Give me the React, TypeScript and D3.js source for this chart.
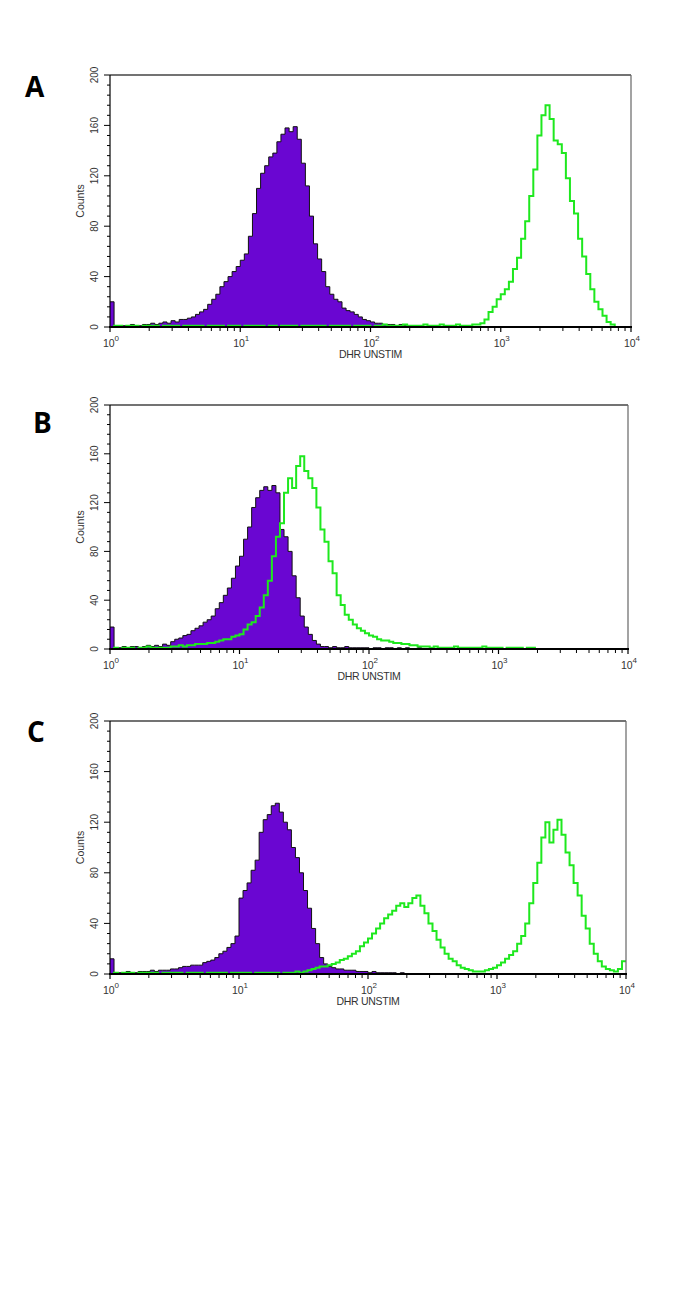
import React from "react";
import * as d3 from "d3";

// 128 log channels over 10^0..10^4 (32 per decade)
const CHANNELS_PER_DECADE = 32;

const panelLabels = ["A", "B", "C"];
const yTickValues = [0, 40, 80, 120, 160, 200];
const xDecades = [0, 1, 2, 3, 4];
const xAxisTitle = "DHR UNSTIM";
const yAxisTitle = "Counts";

const purpleA = [
  20, 1, 0, 1, 1, 2, 1, 1, 2, 2,
  3, 2, 3, 4, 3, 5, 4, 6, 6, 7,
  8, 10, 12, 14, 18, 22, 26, 32, 36, 40,
  44, 48, 53, 58, 72, 90, 110, 122, 128, 135,
  138, 147, 153, 158, 155, 159, 149, 130, 112, 88,
  66, 54, 44, 32, 26, 22, 20, 15, 13, 12,
  10, 8, 6, 5, 4, 3, 3, 2, 2, 2,
  1, 2, 1, 1, 1, 1, 1, 0, 1, 0,
  0, 0, 0, 0, 0, 0, 0, 0, 0, 0,
  0, 0, 0, 0, 0, 0, 0, 0, 0, 0,
  0, 0, 0, 0, 0, 0, 0, 0, 0, 0,
  0, 0, 0, 0, 0, 0, 0, 0, 0, 0,
  0, 0, 0, 0, 0, 0, 0, 0,
];

const greenA = [
  0, 1, 1, 0, 1, 1, 1, 0, 1, 1,
  1, 1, 0, 1, 1, 1, 1, 0, 1, 1,
  1, 1, 1, 0, 1, 1, 1, 1, 0, 1,
  1, 1, 0, 1, 1, 1, 1, 1, 0, 1,
  1, 0, 1, 1, 1, 1, 0, 1, 1, 1,
  1, 1, 1, 0, 1, 1, 1, 1, 1, 0,
  1, 1, 1, 1, 0, 1, 1, 2, 1, 1,
  1, 1, 2, 1, 1, 1, 1, 2, 1, 1,
  1, 2, 1, 1, 1, 2, 1, 1, 1, 2,
  2, 3, 6, 12, 16, 22, 26, 30, 36, 46,
  55, 70, 84, 104, 125, 152, 168, 176, 165, 148,
  145, 138, 118, 100, 90, 70, 56, 42, 30, 20,
  14, 9, 4, 2, 0, 0, 0, 0,
];

const purpleB = [
  18, 1, 1, 2, 1, 2, 2, 1, 2, 3,
  2, 3, 2, 4, 3, 6, 8, 9, 11, 12,
  15, 17, 19, 22, 24, 27, 33, 38, 44, 50,
  58, 68, 76, 90, 100, 116, 124, 130, 133, 130,
  134, 128, 98, 92, 80, 60, 42, 27, 18, 12,
  7, 4, 2, 2, 1, 2, 1, 1, 2, 1,
  1, 1, 1, 1, 0, 1, 1, 0, 1, 1,
  0, 1, 0, 1, 0, 0, 1, 0, 0, 0,
  0, 0, 0, 0, 0, 0, 0, 0, 0, 0,
  0, 0, 0, 0, 0, 0, 0, 0, 0, 0,
  0, 0, 0, 0, 0, 0, 0, 0, 0, 0,
  0, 0, 0, 0, 0, 0, 0, 0, 0, 0,
  0, 0, 0, 0, 0, 0, 0, 0,
];

const greenB = [
  0, 1, 0, 1, 1, 1, 0, 1, 1, 2,
  1, 1, 1, 1, 1, 2, 2, 3, 2, 3,
  3, 4, 4, 4, 5, 5, 6, 7, 8, 8,
  10, 11, 12, 16, 20, 22, 27, 34, 44, 56,
  76, 92, 103, 128, 140, 132, 150, 158, 146, 140,
  132, 116, 98, 88, 72, 62, 44, 36, 28, 24,
  20, 17, 15, 13, 11, 10, 8, 7, 7, 6,
  5, 5, 4, 4, 3, 3, 2, 2, 2, 1,
  2, 1, 1, 1, 1, 2, 1, 1, 1, 1,
  1, 1, 2, 1, 1, 1, 1, 0, 1, 1,
  1, 1, 0, 1, 1, 0, 0, 0, 0, 0,
  0, 0, 0, 0, 0, 0, 0, 0, 0, 0,
  0, 0, 0, 0, 0, 0, 0, 0,
];

const purpleC = [
  12, 1, 1, 1, 2, 1, 1, 2, 2, 2,
  3, 2, 3, 3, 3, 4, 4, 5, 6, 6,
  7, 7, 7, 9, 10, 11, 13, 16, 18, 21,
  24, 30, 60, 66, 72, 82, 90, 112, 122, 126,
  133, 135, 128, 120, 114, 100, 92, 80, 66, 52,
  36, 24, 13, 8, 6, 5, 4, 4, 3, 3,
  3, 2, 2, 2, 1, 2, 1, 1, 1, 1,
  1, 0, 1, 0, 0, 0, 0, 0, 0, 0,
  0, 0, 0, 0, 0, 0, 0, 0, 0, 0,
  0, 0, 0, 0, 0, 0, 0, 0, 0, 0,
  0, 0, 0, 0, 0, 0, 0, 0, 0, 0,
  0, 0, 0, 0, 0, 0, 0, 0, 0, 0,
  0, 0, 0, 0, 0, 0, 0, 0,
];

const greenC = [
  0, 1, 0, 1, 1, 1, 0, 1, 1, 1,
  1, 1, 0, 1, 1, 1, 1, 1, 0, 1,
  1, 1, 1, 0, 1, 1, 1, 1, 1, 0,
  1, 1, 1, 1, 1, 0, 1, 1, 1, 1,
  1, 1, 0, 1, 1, 1, 2, 1, 2, 3,
  4, 5, 6, 6, 7, 8, 9, 11, 12, 14,
  16, 18, 22, 25, 28, 32, 36, 40, 44, 47,
  50, 54, 56, 53, 56, 60, 62, 54, 48, 40,
  34, 27, 21, 16, 12, 10, 7, 5, 4, 3,
  2, 2, 2, 3, 4, 5, 7, 9, 12, 15,
  18, 24, 30, 40, 56, 72, 88, 108, 120, 104,
  114, 122, 110, 96, 86, 72, 62, 46, 36, 24,
  16, 10, 6, 4, 3, 2, 4, 10,
];

const panels = [
  { label: panelLabels[0], purple: purpleA, green: greenA, x0: 110, x1: 631, yTop: 75, yBot: 327, lx: 25, ly: 97 },
  { label: panelLabels[1], purple: purpleB, green: greenB, x0: 110, x1: 628, yTop: 405, yBot: 649, lx: 33, ly: 433 },
  { label: panelLabels[2], purple: purpleC, green: greenC, x0: 110, x1: 626, yTop: 721, yBot: 974, lx: 27, ly: 742 },
];

const PURPLE = "#6a06d2";
const GREEN = "#1ee81e";
const FONT = "'Liberation Sans', Arial, sans-serif";

function toPoints(values: number[]) {
  const pts = values.map((v, i) => ({ x: Math.pow(10, i / CHANNELS_PER_DECADE), y: v }));
  pts.push({ x: Math.pow(10, values.length / CHANNELS_PER_DECADE), y: values[values.length - 1] });
  return pts;
}

function Panel({ p }: { p: typeof panels[number] }) {
  const x = d3.scaleLog().domain([1, 1e4]).range([p.x0, p.x1]);
  const y = d3.scaleLinear().domain([0, 200]).range([p.yBot, p.yTop]);
  const purplePts = toPoints(p.purple);
  const greenPts = toPoints(p.green);
  const area = d3
    .area<{ x: number; y: number }>()
    .x((d) => x(d.x))
    .y0(y(0))
    .y1((d) => y(d.y))
    .curve(d3.curveStepAfter);
  const line = d3
    .line<{ x: number; y: number }>()
    .x((d) => x(d.x))
    .y((d) => y(d.y))
    .curve(d3.curveStepAfter);

  const minorY = d3.range(0, 201, 8);
  const minorX: number[] = [];
  for (let d = 0; d < 4; d++) {
    for (let k = 2; k <= 9; k++) minorX.push(k * Math.pow(10, d));
  }
  const midX = (p.x0 + p.x1) / 2;
  const midY = (p.yTop + p.yBot) / 2;

  return (
    <g>
      <text x={p.lx} y={p.ly} fontFamily="'Open Sans', 'Liberation Sans', sans-serif" fontWeight="bold" fontSize={28} fill="#000">
        {p.label}
      </text>
      {/* histograms */}
      <path d={area(purplePts) || ""} fill={PURPLE} stroke="none" />
      <path d={line(purplePts) || ""} fill="none" stroke="#111" strokeWidth={1} />
      <path d={line(greenPts) || ""} fill="none" stroke={GREEN} strokeWidth={2} />
      {/* frame */}
      <line x1={p.x0} x2={p.x1} y1={p.yTop} y2={p.yTop} stroke="#444" strokeWidth={1.5} />
      <line x1={p.x1} x2={p.x1} y1={p.yTop} y2={p.yBot} stroke="#666" strokeWidth={1.2} />
      <line x1={p.x0} x2={p.x0} y1={p.yTop} y2={p.yBot} stroke="#000" strokeWidth={1.2} />
      <line x1={p.x0 - 1} x2={p.x1 + 1} y1={p.yBot} y2={p.yBot} stroke="#000" strokeWidth={2} />
      {/* y ticks */}
      {minorY.map((v) => (
        <line key={"my" + v} x1={p.x0} x2={p.x0 - (v % 40 === 0 ? 6 : 3)} y1={y(v)} y2={y(v)} stroke="#000" strokeWidth={1} />
      ))}
      {yTickValues.map((v) => (
        <text
          key={"yt" + v}
          transform={`translate(${p.x0 - 12},${y(v)}) rotate(-90)`}
          textAnchor="middle"
          fontFamily={FONT}
          fontSize={10}
          fill="#333"
        >
          {v}
        </text>
      ))}
      <text
        transform={`translate(${p.x0 - 26},${midY}) rotate(-90)`}
        textAnchor="middle"
        fontFamily={FONT}
        fontSize={10.5}
        fill="#333"
      >
        {yAxisTitle}
      </text>
      {/* x ticks */}
      {minorX.map((v) => (
        <line key={"mx" + v} x1={x(v)} x2={x(v)} y1={p.yBot} y2={p.yBot + 4} stroke="#000" strokeWidth={1} />
      ))}
      {xDecades.map((d) => (
        <g key={"xd" + d}>
          <line x1={x(Math.pow(10, d))} x2={x(Math.pow(10, d))} y1={p.yBot} y2={p.yBot + 5} stroke="#000" strokeWidth={1.2} />
          <text x={x(Math.pow(10, d)) + 1} y={p.yBot + 20} textAnchor="middle" fontFamily={FONT} fontSize={10.5} fill="#333">
            10
            <tspan dy={-6} fontSize={8}>
              {d}
            </tspan>
          </text>
        </g>
      ))}
      <text x={midX} y={p.yBot + 31} textAnchor="middle" fontFamily={FONT} fontSize={10.5} fill="#333" letterSpacing={-0.3}>
        {xAxisTitle}
      </text>
    </g>
  );
}

export default function App() {
  return (
    <svg
      width={685}
      height={1298}
      viewBox="0 0 685 1298"
      style={{ position: "absolute", left: 0, top: 0, background: "#fff" }}
    >
      <rect x={0} y={0} width={685} height={1298} fill="#fff" />
      {panels.map((p) => (
        <Panel key={p.label} p={p} />
      ))}
    </svg>
  );
}
